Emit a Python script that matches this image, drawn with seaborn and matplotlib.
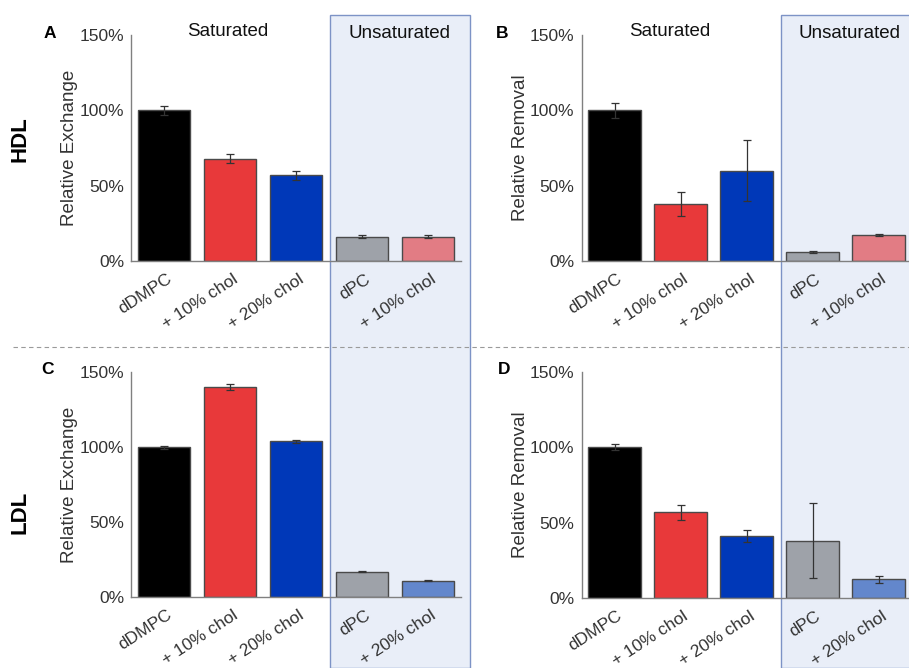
import matplotlib
matplotlib.use("Agg")
import matplotlib.pyplot as plt
import matplotlib.transforms as mtransforms
from matplotlib.patches import Rectangle
from matplotlib.lines import Line2D
import seaborn as sns
import pandas as pd

sns.set_style("white")
plt.rcParams["font.family"] = ["Liberation Sans", "DejaVu Sans"]

# ---- data -------------------------------------------------------------
labels_A = ["dDMPC", "+ 10% chol", "+ 20% chol", "dPC", "+ 10% chol"]
labels_C = ["dDMPC", "+ 10% chol", "+ 20% chol", "dPC", "+ 20% chol"]

colors_top = ["#000000", "#e8393a", "#0038b8", "#9ea2a9", "#e27c84"]
colors_bot = ["#000000", "#e8393a", "#0038b8", "#9ea2a9", "#6387cc"]

hdl_exchange = [100, 68, 57, 16, 16]
hdl_exchange_err = [3, 3, 3, 1, 1]
hdl_removal = [100, 38, 60, 6, 17]
hdl_removal_err = [5, 8, 20, 0.6, 0.6]

ldl_exchange = [100, 140, 104, 17, 11]
ldl_exchange_err = [1, 2, 1, 0.5, 0.5]
ldl_removal = [100, 57, 41, 38, 12.5]
ldl_removal_err = [2, 5, 4, 25, 2.3]

yticks = [0, 50, 100, 150]
ytick_labels = ["0%", "50%", "100%", "150%"]

# ---- figure -----------------------------------------------------------
W, H = 909, 668
fig = plt.figure(figsize=(W / 100, H / 100), dpi=100)


def px_axes(left, top, right, bottom):
    return fig.add_axes([left / W, 1 - bottom / H, (right - left) / W, (bottom - top) / H])


ax_A = px_axes(131, 35, 461, 261)
ax_B = px_axes(581.5, 35, 911.5, 261)
ax_C = px_axes(131, 372, 461, 597)
ax_D = px_axes(581.5, 372, 911.5, 598)

spine_col = "#808080"
text_col = "#333333"


def draw_panel(ax, values, errs, colors, labels, ylabel):
    df = pd.DataFrame({"pos": list(range(len(values))), "value": values})
    sns.barplot(data=df, x="pos", y="value", hue="pos", palette=colors,
                legend=False, width=0.8, saturation=1, edgecolor="#4a4a4a",
                linewidth=1.0, errorbar=None, ax=ax)
    ax.errorbar(df["pos"], df["value"], yerr=errs, fmt="none",
                ecolor="#333333", elinewidth=0.9, capsize=3, capthick=0.9, zorder=5)
    ax.set_facecolor("none")
    ax.set_xlim(-0.5, 4.5)
    ax.set_ylim(0, 150)
    ax.set_yticks(yticks)
    ax.set_yticklabels(ytick_labels)
    ax.set_xticks(range(len(labels)))
    ax.set_xticklabels(labels, rotation=33, ha="right", va="center",
                       rotation_mode="anchor")
    ax.tick_params(axis="both", length=0, labelsize=12.5, labelcolor=text_col)
    ax.tick_params(axis="y", pad=5)
    ax.tick_params(axis="x", pad=12)
    shift = mtransforms.ScaledTranslation(6.5 / 100, 0, fig.dpi_scale_trans)
    for lab in ax.get_xticklabels():
        lab.set_transform(lab.get_transform() + shift)
    ax.set_xlabel("")
    ax.set_ylabel(ylabel, fontsize=13.5, color=text_col, labelpad=1)
    for side in ("top", "right"):
        ax.spines[side].set_visible(False)
    for side in ("left", "bottom"):
        ax.spines[side].set_color(spine_col)
        ax.spines[side].set_linewidth(1.0)


draw_panel(ax_A, hdl_exchange, hdl_exchange_err, colors_top, labels_A, "Relative Exchange")
draw_panel(ax_B, hdl_removal, hdl_removal_err, colors_top, labels_A, "Relative Removal")
draw_panel(ax_C, ldl_exchange, ldl_exchange_err, colors_bot, labels_C, "Relative Exchange")
draw_panel(ax_D, ldl_removal, ldl_removal_err, colors_bot, labels_C, "Relative Removal")

# shaded "Unsaturated" columns spanning both rows
for ax in (ax_A, ax_B):
    tr = mtransforms.blended_transform_factory(ax.transData, fig.transFigure)
    rect = Rectangle((2.52, 0), 2.12, 1 - 15.3 / H, transform=tr,
                     facecolor="#e9eef8", edgecolor="#7d93c6", linewidth=1.0,
                     zorder=-1)
    fig.add_artist(rect)

# dashed separator between rows
fig.add_artist(Line2D([13 / W, 1], [1 - 347 / H, 1 - 347 / H], transform=fig.transFigure,
                      color="#9a9a9a", linewidth=0.8, linestyle=(0, (4, 3)), zorder=2))

# group headings
for x, y, s in [(228, 32, "Saturated"), (399, 33, "Unsaturated"),
                (670, 32, "Saturated"), (850, 33, "Unsaturated")]:
    fig.text(x / W, 1 - y / H, s, ha="center", va="center", fontsize=13.5, color="#111111")

# panel letters
for x, y, s in [(50, 33, "A"), (502, 33, "B"), (47, 370, "C"), (504, 370, "D")]:
    fig.text(x / W, 1 - y / H, s, ha="center", va="center", fontsize=12.5,
             fontweight="bold", color="#000000")

# row labels
for y, s in [(139, "HDL"), (512, "LDL")]:
    fig.text(20 / W, 1 - y / H, s, ha="center", va="center", rotation=90,
             fontsize=16, fontweight="bold", color="#000000")

fig.savefig("out.png", dpi=100)
